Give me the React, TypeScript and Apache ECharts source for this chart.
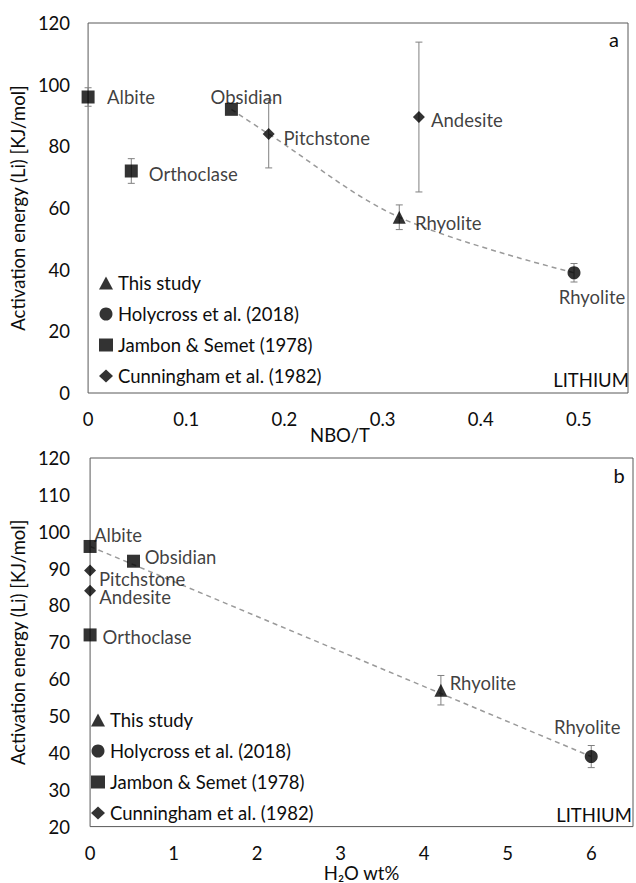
import React, { useEffect, useRef } from "react";
import * as echarts from "echarts";

// ---- data ----
const samples = ["Albite", "Orthoclase", "Obsidian", "Pitchstone", "Andesite", "Rhyolite", "Rhyolite"];
const sampleSource = [
  "Jambon & Semet (1978)",
  "Jambon & Semet (1978)",
  "Jambon & Semet (1978)",
  "Cunningham et al. (1982)",
  "Cunningham et al. (1982)",
  "This study",
  "Holycross et al. (2018)",
];
const nboT = [0, 0.044, 0.146, 0.184, 0.337, 0.317, 0.495];
const h2oWt = [0, 0, 0.52, 0, 0, 4.2, 6.0];
const activationEnergy = [96, 72, 92, 84, 89.5, 57, 39];
const errNboPanel = [3, 4, 0, 11, 24.3, 4, 3];
const errH2oPanel = [0, 0, 0, 0, 0, 4, 3];
const sources = ["This study", "Holycross et al. (2018)", "Jambon & Semet (1978)", "Cunningham et al. (1982)"];
const trendNbo = [2, 3, 5, 6]; // sample indices used by the dashed trend (panel a)
const trendH2o = [0, 6]; // sample indices used by the dashed trend (panel b)

const yTitle = "Activation energy (Li) [KJ/mol]";
const xTitleA = "NBO/T";
const xTitleB = "H₂O wt%";

// ---- styles ----
const FONT = "Lato";
const FS = 18.5;
const TEXT = "#0d0d0d";
const symbolOf: Record<string, string> = {
  "This study": "triangle",
  "Holycross et al. (2018)": "circle",
  "Jambon & Semet (1978)": "rect",
  "Cunningham et al. (1982)": "diamond",
};
const sizeOf: Record<string, number> = {
  "This study": 13,
  "Holycross et al. (2018)": 13,
  "Jambon & Semet (1978)": 13,
  "Cunningham et al. (1982)": 12,
};
const labelOffsetA = [[43, 0], [62, 3], [15, -12], [58, 4], [48, 3], [49, 6], [18, 24]];
const labelOffsetB = [[28, -11], [57, 2], [47, -4], [52, -12], [45, 27], [42, -7], [-4, -30]];

function buildOption() {
  const panels = [
    { xs: nboT, errs: errNboPanel, offs: labelOffsetA, trend: trendNbo, smooth: true },
    { xs: h2oWt, errs: errH2oPanel, offs: labelOffsetB, trend: trendH2o, smooth: false },
  ];
  const series: any[] = [];
  panels.forEach((p, g) => {
    // error bars
    series.push({
      type: "custom",
      xAxisIndex: g,
      yAxisIndex: g,
      silent: true,
      z: 1,
      data: samples
        .map((_, i) => [p.xs[i], activationEnergy[i], p.errs[i]])
        .filter((d) => d[2] > 0),
      encode: { x: 0, y: 1 },
      renderItem: (params: any, api: any) => {
        const x = api.value(0);
        const y = api.value(1);
        const e = api.value(2);
        const a = api.coord([x, y + e]);
        const b = api.coord([x, y - e]);
        const w = 3.5;
        const st = { stroke: "#808080", lineWidth: 1 };
        return {
          type: "group",
          children: [
            { type: "line", shape: { x1: a[0], y1: a[1], x2: b[0], y2: b[1] }, style: st },
            { type: "line", shape: { x1: a[0] - w, y1: a[1], x2: a[0] + w, y2: a[1] }, style: st },
            { type: "line", shape: { x1: b[0] - w, y1: b[1], x2: b[0] + w, y2: b[1] }, style: st },
          ],
        };
      },
    });
    // trend line
    series.push({
      type: "line",
      xAxisIndex: g,
      yAxisIndex: g,
      silent: true,
      z: 2,
      symbol: "none",
      smooth: p.smooth ? 0.35 : false,
      data: p.trend.map((i) => [p.xs[i], activationEnergy[i]]),
      lineStyle: { color: "#9a9a9a", width: 1.5, type: [5, 4] },
    });
    // scatter per source
    sources.forEach((s) => {
      const data = samples
        .map((name, i) => ({ i, name }))
        .filter((d) => sampleSource[d.i] === s)
        .map((d) => ({
          name: d.name,
          value: [p.xs[d.i], activationEnergy[d.i]],
          label: { offset: p.offs[d.i] },
        }));
      series.push({
        type: "scatter",
        name: s,
        xAxisIndex: g,
        yAxisIndex: g,
        z: 3,
        symbol: symbolOf[s],
        symbolSize: sizeOf[s],
        itemStyle: { color: "#000" },
        label: {
          show: true,
          position: "inside",
          formatter: "{b}",
          fontSize: FS,
          fontFamily: FONT,
          color: TEXT,
          lineHeight: 14,
        },
        data,
      });
    });
  });

  const axisLabel = { fontSize: FS, fontFamily: FONT, color: TEXT, lineHeight: 18 };
  const legendBase = {
    orient: "vertical",
    padding: 0,
    itemGap: 11,
    itemWidth: 14,
    itemHeight: 13,
    selectedMode: false,
    textStyle: { fontSize: FS, fontFamily: FONT, color: TEXT, lineHeight: 20 },
    data: sources.map((s) => ({ name: s, icon: symbolOf[s] })),
  };
  const txt = (text: string, x: number, y: number, fs: number) => ({
    type: "text",
    x,
    y,
    style: { text, fontSize: fs, fontFamily: FONT, fill: TEXT, align: "center", verticalAlign: "middle" },
  });

  return {
    animation: false,
    backgroundColor: "#fff",
    grid: [
      { left: 78, top: 23, width: 550, height: 370, show: true, borderColor: "#595959", borderWidth: 1 },
      { left: 83, top: 458, width: 550, height: 370, show: true, borderColor: "#595959", borderWidth: 1 },
    ],
    xAxis: [
      {
        gridIndex: 0,
        type: "value",
        min: 0,
        max: 0.55,
        interval: 0.1,
        axisLine: { show: false },
        axisTick: { show: false },
        splitLine: { show: false },
        axisLabel: { ...axisLabel, margin: 17, showMaxLabel: false },
      },
      {
        gridIndex: 1,
        type: "value",
        min: 0,
        max: 6.5,
        interval: 1,
        name: xTitleB,
        nameLocation: "middle",
        nameGap: 32,
        nameTextStyle: { fontSize: FS, fontFamily: FONT, color: TEXT, lineHeight: 18 },
        axisLine: { show: false },
        axisTick: { show: false },
        splitLine: { show: false },
        axisLabel: { ...axisLabel, margin: 17, showMaxLabel: false },
      },
    ],
    yAxis: [
      {
        gridIndex: 0,
        type: "value",
        min: 0,
        max: 120,
        interval: 20,
        name: yTitle,
        nameLocation: "middle",
        nameGap: 41,
        nameTextStyle: { fontSize: FS, fontFamily: FONT, color: TEXT },
        axisLine: { show: false },
        axisTick: { show: false },
        splitLine: { show: false },
        axisLabel: { ...axisLabel, margin: 18 },
      },
      {
        gridIndex: 1,
        type: "value",
        min: 20,
        max: 120,
        interval: 10,
        name: yTitle,
        nameLocation: "middle",
        nameGap: 45,
        nameTextStyle: { fontSize: FS, fontFamily: FONT, color: TEXT },
        axisLine: { show: false },
        axisTick: { show: false },
        splitLine: { show: false },
        axisLabel: { ...axisLabel, margin: 20 },
      },
    ],
    legend: [
      { ...legendBase, left: 99, top: 273 },
      { ...legendBase, left: 91, top: 710 },
    ],
    graphic: [
      txt(xTitleA, 340, 435, FS),
      txt("a", 614, 39, 20),
      txt("b", 619, 475, 20),
      txt("LITHIUM", 591, 380, FS),
      txt("LITHIUM", 594, 815, FS),
    ],
    series,
  };
}

export default function App() {
  const ref = useRef<HTMLDivElement>(null);
  useEffect(() => {
    if (!ref.current) return;
    const chart = echarts.init(ref.current, null, { renderer: "svg" });
    chart.setOption(buildOption() as any);
    return () => chart.dispose();
  }, []);
  return (
    <div
      ref={ref}
      style={{ position: "absolute", left: 0, top: 0, width: 636, height: 883 }}
    />
  );
}
